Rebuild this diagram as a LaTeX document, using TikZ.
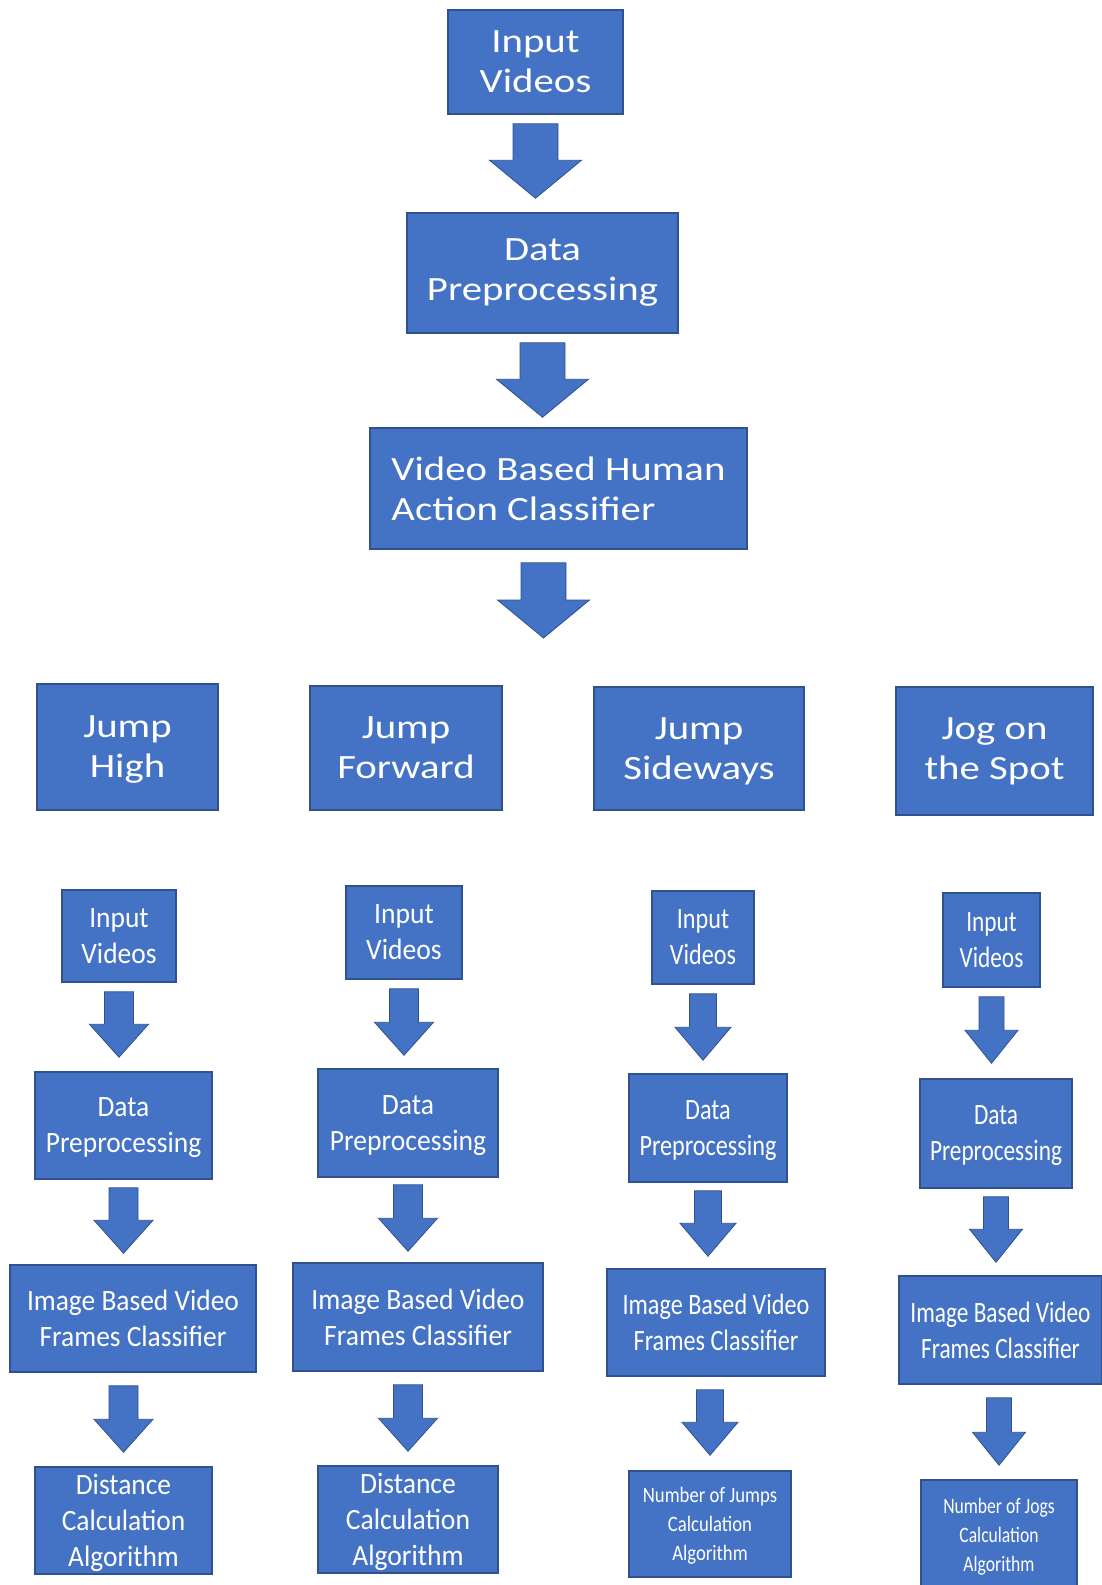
\documentclass[tikz,border=0pt]{standalone}
\usepackage{fontspec}
\setmainfont{Carlito}
\newfontfamily\wideface[FakeStretch=1.2]{Carlito}
\newfontfamily\faceA[FakeStretch=0.93]{Carlito}
\newfontfamily\faceB[FakeStretch=0.935]{Carlito}
\newfontfamily\faceC[FakeStretch=0.82]{Carlito}
\newfontfamily\faceD[FakeStretch=0.79]{Carlito}
\newfontfamily\faceE[FakeStretch=0.85]{Carlito}
\newfontfamily\faceF[FakeStretch=0.80]{Carlito}
\usetikzlibrary{calc}
\definecolor{boxblue}{HTML}{4472C4}
\definecolor{edgeblue}{HTML}{2F528F}

\begin{document}
\begin{tikzpicture}[x=1pt,y=-1pt,
  box/.style={draw=edgeblue, line width=1.5pt, fill=boxblue, text=white,
    inner sep=0pt, align=center},
  bigbox/.style={box, font=\wideface\fontsize{34}{40}\selectfont},
  colbox/.style={box, font=#1\fontsize{29.5}{36}\selectfont},
  smallbox/.style={box, font=#1\fontsize{22}{29}\selectfont},
  % block arrow pointing down: shaft width, head width, head length
  blockdown/.style n args={3}{fill=boxblue, draw=edgeblue, line width=0.8pt,
    line join=miter,
    to path={let \p1=(\tikztostart), \p2=(\tikztotarget) in
      (\x1-#1/2,\y1) -- (\x1+#1/2,\y1) -- (\x1+#1/2,\y2+#3)
      -- (\x1+#2/2,\y2+#3) -- (\x1,\y2) -- (\x1-#2/2,\y2+#3)
      -- (\x1-#1/2,\y2+#3) -- cycle}},
  bigflow/.style={blockdown={45pt}{92pt}{38pt}},
  flow/.style 2 args={blockdown={#1}{#2}{33pt}}
]
\fill[white] (0,0) rectangle (1102,1585);
\useasboundingbox (0,0) rectangle (1102,1585);

% main pipeline
\node[bigbox, minimum width=175pt, minimum height=104pt] (iv0) at (535.5,62) {Input\\Videos};
\node[bigbox, minimum width=271pt, minimum height=120pt] (dp0) at (542.5,273) {Data\\Preprocessing};
\node[bigbox, minimum width=377pt, minimum height=121pt, align=left] (vb) at (558.5,488.5) {Video Based Human\\Action Classifier};
\coordinate (split) at (543.5,638);

\path[bigflow] ($(iv0.south)+(0,9)$) to ($(iv0.south |- dp0.north)+(0,-14)$);
\path[bigflow] ($(dp0.south)+(0,9)$) to ($(dp0.south |- vb.north)+(0,-10)$);
\path[bigflow] ($(split |- vb.south)+(0,13)$) to (split);

% action classes
\node[bigbox, minimum width=181pt, minimum height=126pt] (jh) at (127.5,747) {Jump\\\smash{High}};
\node[bigbox, minimum width=192pt, minimum height=124pt] (jf) at (406,748) {Jump\\Forward};
\node[bigbox, minimum width=210pt, minimum height=123pt] (js) at (699,748.5) {Jump\\\smash{Sideways}};
\node[bigbox, minimum width=197pt, minimum height=128pt] (jo) at (994.5,751) {Jog on\\the Spot};

% jump high branch
\node[colbox=\faceA, minimum width=114pt, minimum height=92pt] (iv1) at (119,936) {Input\\Videos};
\node[colbox=\faceA, minimum width=177pt, minimum height=107pt] (dp1) at (123.5,1125.5) {Data\\\smash{Preprocessing}};
\node[colbox=\faceA, minimum width=246pt, minimum height=107pt] (ib1) at (133,1318.5) {Image Based Video\\Frames Classifier};
\node[colbox=\faceA, minimum width=177pt, minimum height=107pt] (dc1) at (123.5,1520.5) {Distance\\Calculation\\\smash{Algorithm}};
\path[flow={29pt}{59pt}] ($(iv1.south)+(0,9)$) to ($(iv1.south |- dp1.north)+(0,-14)$);
\path[flow={29pt}{59pt}] ($(dp1.south)+(0,8)$) to ($(dp1.south |- ib1.north)+(0,-11)$);
\path[flow={29pt}{59pt}] ($(dc1.north |- ib1.south)+(0,13)$) to ($(dc1.north)+(0,-14)$);

% jump forward branch
\node[colbox=\faceB, minimum width=116pt, minimum height=93pt] (iv2) at (404,932.5) {Input\\Videos};
\node[colbox=\faceB, minimum width=180pt, minimum height=108pt] (dp2) at (408,1123) {Data\\\smash{Preprocessing}};
\node[colbox=\faceB, minimum width=250pt, minimum height=108pt] (ib2) at (418,1317) {Image Based Video\\Frames Classifier};
\node[colbox=\faceB, minimum width=180pt, minimum height=107pt] (dc2) at (408,1519.5) {Distance\\Calculation\\\smash{Algorithm}};
\path[flow={29pt}{59pt}] ($(iv2.south)+(0,9)$) to ($(iv2.south |- dp2.north)+(0,-13)$);
\path[flow={29pt}{59pt}] ($(dp2.south)+(0,7)$) to ($(dp2.south |- ib2.north)+(0,-11)$);
\path[flow={29pt}{59pt}] ($(dc2.north |- ib2.south)+(0,13)$) to ($(dc2.north)+(0,-14)$);

% jump sideways branch
\node[colbox=\faceC, minimum width=102pt, minimum height=93pt] (iv3) at (703,937.5) {Input\\Videos};
\node[colbox=\faceC, minimum width=158pt, minimum height=108pt] (dp3) at (708,1128) {Data\\\smash{Preprocessing}};
\node[colbox=\faceC, minimum width=218pt, minimum height=107pt] (ib3) at (716,1322.5) {Image Based Video\\Frames Classifier};
\node[smallbox=\faceE, minimum width=162pt, minimum height=106pt] (nj) at (710,1524) {Number of Jumps\\Calculation\\\smash{Algorithm}};
\path[flow={27pt}{56pt}] ($(iv3.south)+(0,9)$) to ($(iv3.south |- dp3.north)+(0,-13)$);
\path[flow={27pt}{56pt}] ($(dp3.south)+(0,8)$) to ($(dp3.south |- ib3.north)+(0,-12)$);
\path[flow={27pt}{56pt}] ($(nj.north |- ib3.south)+(0,13)$) to ($(nj.north)+(0,-15)$);

% jog on the spot branch
\node[colbox=\faceD, minimum width=97pt, minimum height=94pt] (iv4) at (991.5,940) {Input\\Videos};
\node[colbox=\faceD, minimum width=152pt, minimum height=109pt] (dp4) at (996,1133.5) {Data\\\smash{Preprocessing}};
\node[colbox=\faceD, minimum width=203pt, minimum height=108pt] (ib4) at (1000.5,1330) {Image Based Video\\Frames Classifier};
\node[smallbox=\faceF, minimum width=156pt, minimum height=110pt] (ng) at (999,1535) {Number of Jogs\\Calculation\\\smash{Algorithm}};
\path[flow={25pt}{53pt}] ($(iv4.south)+(0,9)$) to ($(iv4.south |- dp4.north)+(0,-15)$);
\path[flow={25pt}{53pt}] ($(dp4.south)+(0,8)$) to ($(dp4.south |- ib4.north)+(0,-13)$);
\path[flow={25pt}{53pt}] ($(ng.north |- ib4.south)+(0,13)$) to ($(ng.north)+(0,-14)$);
\end{tikzpicture}
\end{document}
